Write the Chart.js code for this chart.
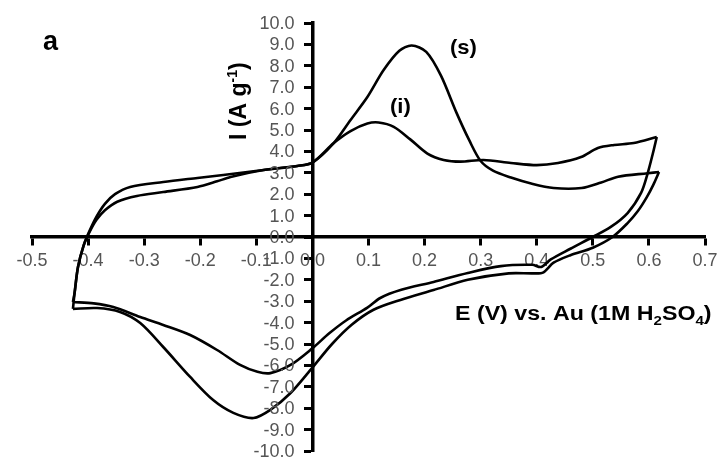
<!DOCTYPE html>
<html>
<head>
<meta charset="utf-8">
<script src="https://cdn.jsdelivr.net/npm/chart.js@4.4.1/dist/chart.umd.min.js"></script>
<style>
body { margin: 0; background: #fff; }
#wrap { width: 725px; height: 465px; }
</style>
</head>
<body>
<div id="wrap"><canvas id="cv" width="725" height="465"></canvas></div>
<script>
// (s) loop: anodic sweep (left vertex -> right vertex), then cathodic sweep back
const sFwdE = [-0.427, -0.424, -0.418, -0.408, -0.398, -0.385, -0.37, -0.352, -0.325, -0.266, -0.205, -0.159, -0.087, -0.027, 0.0, 0.038, 0.068, 0.098, 0.127, 0.155, 0.177, 0.203, 0.229, 0.257, 0.28, 0.3, 0.322, 0.354, 0.39, 0.43, 0.48, 0.515, 0.545, 0.598, 0.618];
const sFwdI = [-3.36, -2.6, -1.4, -0.4, 0.25, 0.95, 1.55, 2.0, 2.34, 2.57, 2.76, 2.9, 3.13, 3.32, 3.48, 4.39, 5.47, 6.54, 7.8, 8.7, 8.95, 8.65, 7.55, 5.8, 4.5, 3.55, 3.1, 2.78, 2.5, 2.29, 2.29, 2.55, 2.82, 2.98, 3.04];
const sRevE = [0.618, 0.608, 0.596, 0.58, 0.562, 0.535, 0.5, 0.46, 0.43, 0.412, 0.395, 0.35, 0.277, 0.216, 0.157, 0.109, 0.07, 0.035, 0.0, -0.039, -0.075, -0.105, -0.141, -0.177, -0.218, -0.266, -0.307, -0.343, -0.384, -0.427];
const sRevI = [3.04, 2.45, 1.85, 1.2, 0.65, 0.0, -0.5, -0.85, -1.2, -1.65, -1.7, -1.7, -2.0, -2.48, -2.94, -3.4, -4.1, -5.0, -6.1, -7.29, -8.08, -8.46, -8.22, -7.62, -6.54, -5.14, -4.02, -3.5, -3.32, -3.36];

// (i) loop
const iFwdE = [-0.427, -0.424, -0.418, -0.408, -0.398, -0.385, -0.37, -0.348, -0.313, -0.266, -0.205, -0.17, -0.146, -0.087, -0.027, 0.0, 0.038, 0.068, 0.098, 0.118, 0.145, 0.175, 0.205, 0.234, 0.264, 0.305, 0.354, 0.4, 0.438, 0.479, 0.509, 0.538, 0.573, 0.614];
const iFwdI = [-3.04, -2.6, -1.4, -0.4, 0.2, 0.8, 1.25, 1.65, 1.92, 2.1, 2.34, 2.6, 2.8, 3.13, 3.32, 3.48, 4.39, 4.95, 5.3, 5.35, 5.15, 4.55, 3.9, 3.6, 3.52, 3.6, 3.46, 3.36, 3.46, 3.74, 4.16, 4.3, 4.39, 4.67];
const iRevE = [0.614, 0.607, 0.598, 0.586, 0.562, 0.532, 0.5, 0.46, 0.425, 0.408, 0.392, 0.336, 0.277, 0.216, 0.157, 0.121, 0.098, 0.06, 0.03, 0.0, -0.039, -0.075, -0.098, -0.129, -0.17, -0.218, -0.266, -0.307, -0.355, -0.39, -0.427];
const iRevI = [4.67, 3.9, 3.0, 2.06, 1.12, 0.47, 0.0, -0.55, -1.05, -1.4, -1.3, -1.36, -1.68, -2.1, -2.48, -2.85, -3.3, -3.9, -4.5, -5.2, -5.98, -6.36, -6.3, -5.98, -5.28, -4.58, -4.11, -3.74, -3.27, -3.1, -3.04];

const xTicks = [-0.5, -0.4, -0.3, -0.2, -0.1, 0.0, 0.1, 0.2, 0.3, 0.4, 0.5, 0.6, 0.7];
const yTicks = [-10, -9, -8, -7, -6, -5, -4, -3, -2, -1, 0, 1, 2, 3, 4, 5, 6, 7, 8, 9, 10];

const FONT = '"Liberation Sans", Arial, sans-serif';

function pts(xs, ys) {
  return xs.map((x, k) => ({ x: x, y: ys[k] }));
}

function curve(xs, ys) {
  return {
    data: pts(xs, ys),
    showLine: true,
    borderColor: '#000',
    borderWidth: 2.6,
    pointRadius: 0,
    tension: 0.3,
    fill: false
  };
}

// draws a run of text pieces [text, size, dy] one after another
function put(ctx, parts, x, y, sx, rot) {
  ctx.save();
  ctx.translate(x, y);
  if (rot) ctx.rotate(rot);
  ctx.scale(sx, 1);
  let cx = 0;
  for (const [t, size, dy] of parts) {
    ctx.font = 'bold ' + size + 'px ' + FONT;
    ctx.fillText(t, cx, dy || 0);
    cx += ctx.measureText(t).width;
  }
  ctx.restore();
}

const labels = {
  id: 'labels',
  afterDraw(chart) {
    const ctx = chart.ctx;
    const xs = chart.scales.x, ys = chart.scales.y;
    ctx.save();
    // y tick labels sit left of the y axis (which crosses at E = 0)
    ctx.fillStyle = '#555';
    ctx.font = '18px ' + FONT;
    ctx.textAlign = 'right';
    ctx.textBaseline = 'middle';
    const ax = xs.getPixelForValue(0) - 18;
    for (const v of yTicks) {
      ctx.fillText(v.toFixed(1), ax, ys.getPixelForValue(v) + 1);
    }
    ctx.fillStyle = '#000';
    ctx.textAlign = 'left';
    ctx.textBaseline = 'alphabetic';
    put(ctx, [['a', 27]], 43, 50, 1);
    put(ctx, [['(s)', 21]], 450, 54, 1.05);
    put(ctx, [['(i)', 21]], 390, 113, 1.05);
    put(ctx, [['E (V) vs. Au (1M H', 20], ['2', 13, 5], ['SO', 20], ['4', 13, 5], [')', 20]], 455, 320, 1.16);
    put(ctx, [['I (A g', 23], ['-1', 14, -9], [')', 23]], 246, 140, 1, -Math.PI / 2);
    ctx.restore();
  }
};

const axisGrid = { drawOnChartArea: false, drawTicks: true, tickLength: 7, tickWidth: 3, tickColor: '#000' };

new Chart(document.getElementById('cv'), {
  type: 'scatter',
  data: {
    datasets: [curve(sFwdE, sFwdI), curve(sRevE, sRevI), curve(iFwdE, iFwdI), curve(iRevE, iRevI)]
  },
  options: {
    responsive: false,
    animation: false,
    devicePixelRatio: 1,
    layout: { padding: { left: 32, right: 20, top: 23, bottom: 14 } },
    plugins: { legend: { display: false }, tooltip: { enabled: false } },
    scales: {
      x: {
        type: 'linear',
        min: -0.5,
        max: 0.7,
        position: { y: 0 },
        afterBuildTicks: s => { s.ticks = xTicks.map(v => ({ value: v })); },
        afterFit: s => { s.height = 0; },
        border: { color: '#000', width: 3.5 },
        grid: axisGrid,
        ticks: {
          color: '#555',
          font: { size: 18, family: FONT },
          padding: 6,
          autoSkip: false,
          maxRotation: 0,
          callback: v => v.toFixed(1)
        }
      },
      y: {
        type: 'linear',
        min: -10,
        max: 10,
        position: { x: 0 },
        afterBuildTicks: s => { s.ticks = yTicks.map(v => ({ value: v })); },
        afterFit: s => { s.width = 0; },
        border: { color: '#000', width: 3.5 },
        grid: axisGrid,
        ticks: { display: false }
      }
    }
  },
  plugins: [labels]
});
</script>
</body>
</html>
